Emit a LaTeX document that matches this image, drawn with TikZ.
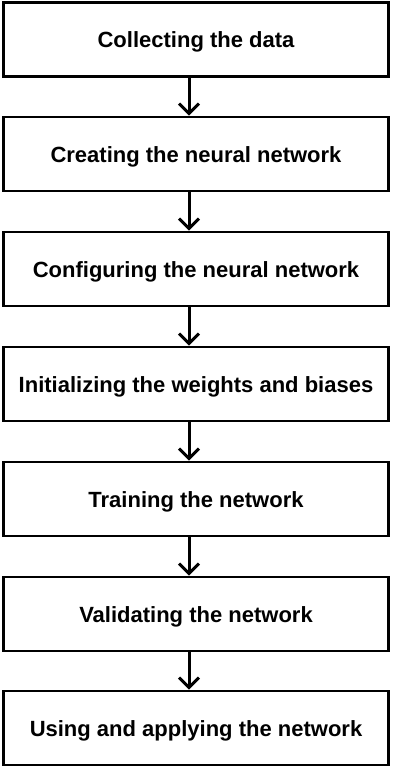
\documentclass[tikz,border=0pt]{standalone}
\usepackage{fontspec}
\setmainfont{Liberation Sans}
\usetikzlibrary{arrows.meta}
\begin{document}
\begin{tikzpicture}[x=1pt,y=-1pt,
  stepbox/.style={draw=black,line width=2.6pt,minimum width=385pt,minimum height=74pt,inner sep=0pt,text height=17pt,text depth=0pt,font=\fontsize{22}{26}\selectfont\bfseries},
  conn/.style={line width=3pt,-{Straight Barb[length=10pt,width=20pt,line width=3pt]}}]
\useasboundingbox (0,0) rectangle (392,768);
\node[stepbox] (a) at (196,39.5) {Collecting the data};
\node[stepbox] (b) at (196,154) {Creating the neural network};
\node[stepbox] (c) at (196,269) {Configuring the neural network};
\node[stepbox] (d) at (196,384) {Initializing the weights and biases};
\node[stepbox] (e) at (196,499) {Training the network};
\node[stepbox] (f) at (196,614) {Validating the network};
\node[stepbox] (g) at (196,728) {Using and applying the network};
\foreach \u/\v in {a/b,b/c,c/d,d/e,e/f,f/g}
  \draw[conn] ([xshift=-7pt]\u.south) -- ([xshift=-7pt]\v.north);
\end{tikzpicture}
\end{document}
